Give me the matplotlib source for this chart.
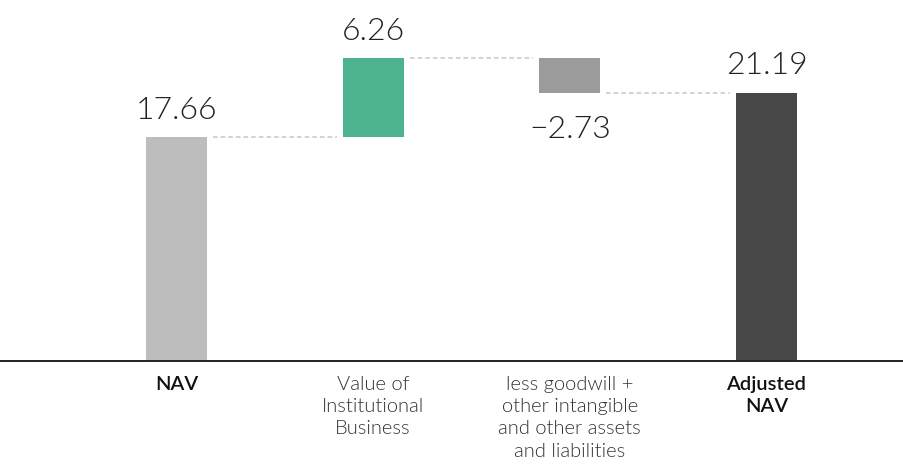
import matplotlib.pyplot as plt
from matplotlib import font_manager

categories = ["NAV", "Value of\nInstitutional\nBusiness",
              "less goodwill +\nother intangible\nand other assets\nand liabilities",
              "Adjusted\nNAV"]
changes = [17.66, 6.26, -2.73, 21.19]
value_labels = ["17.66", "6.26", "\u22122.73", "21.19"]
is_total = [True, False, False, True]
bar_colors = ["#bdbdbd", "#4db38e", "#9b9b9b", "#474747"]
bold_label = [True, False, False, True]

fams = {f.name for f in font_manager.fontManager.ttflist}
font = "Lato" if "Lato" in fams else "DejaVu Sans"

# waterfall: running totals give each bar's bottom and top
bottoms, tops = [], []
running = 0.0
for c, total in zip(changes, is_total):
    if total:
        bottoms.append(0.0)
        tops.append(c)
        running = c
    else:
        start = running
        running = running + c
        bottoms.append(min(start, running))
        tops.append(max(start, running))

fig = plt.figure(figsize=(9.04, 4.68), dpi=100)
ax = fig.add_axes([0, 0.2286, 1, 0.7714])
x = list(range(len(categories)))
w = 0.31
ax.bar(x, [t - b for t, b in zip(tops, bottoms)], bottom=bottoms,
       width=w, color=bar_colors, zorder=2)

# dashed connectors between consecutive bars
level = 0.0
for i, (c, total) in enumerate(zip(changes, is_total)):
    level = c if total else level + c
    if i < len(x) - 1:
        ax.plot([x[i] + w / 2 + 0.03, x[i + 1] - w / 2 - 0.03], [level, level],
                color="#c8c8c8", lw=1.1, ls=(0, (3, 2)), zorder=1)

for i, (lab, c) in enumerate(zip(value_labels, changes)):
    if c >= 0:
        ax.text(x[i], tops[i] + 1.45, lab, ha="center", va="baseline",
                fontsize=23, fontfamily=font, fontweight=300, color="#222222")
    else:
        ax.text(x[i], bottoms[i] - 1.75, lab, ha="center", va="top",
                fontsize=23, fontfamily=font, fontweight=300, color="#222222")

ax.set_xlim(-0.897, 3.699)
ax.set_ylim(0, 28.5)
for s in ["top", "right", "left"]:
    ax.spines[s].set_visible(False)
ax.spines["bottom"].set_color("#222222")
ax.spines["bottom"].set_linewidth(1.4)
ax.set_yticks([])
ax.set_xticks([])

for i, (lab, b) in enumerate(zip(categories, bold_label)):
    ax.text(x[i], -1.15, lab, ha="center", va="top", fontsize=14.5,
            fontfamily=font, fontweight=600 if b else 300,
            color="#111111" if b else "#333333", linespacing=1.38)

fig.savefig("out.png", dpi=100)
